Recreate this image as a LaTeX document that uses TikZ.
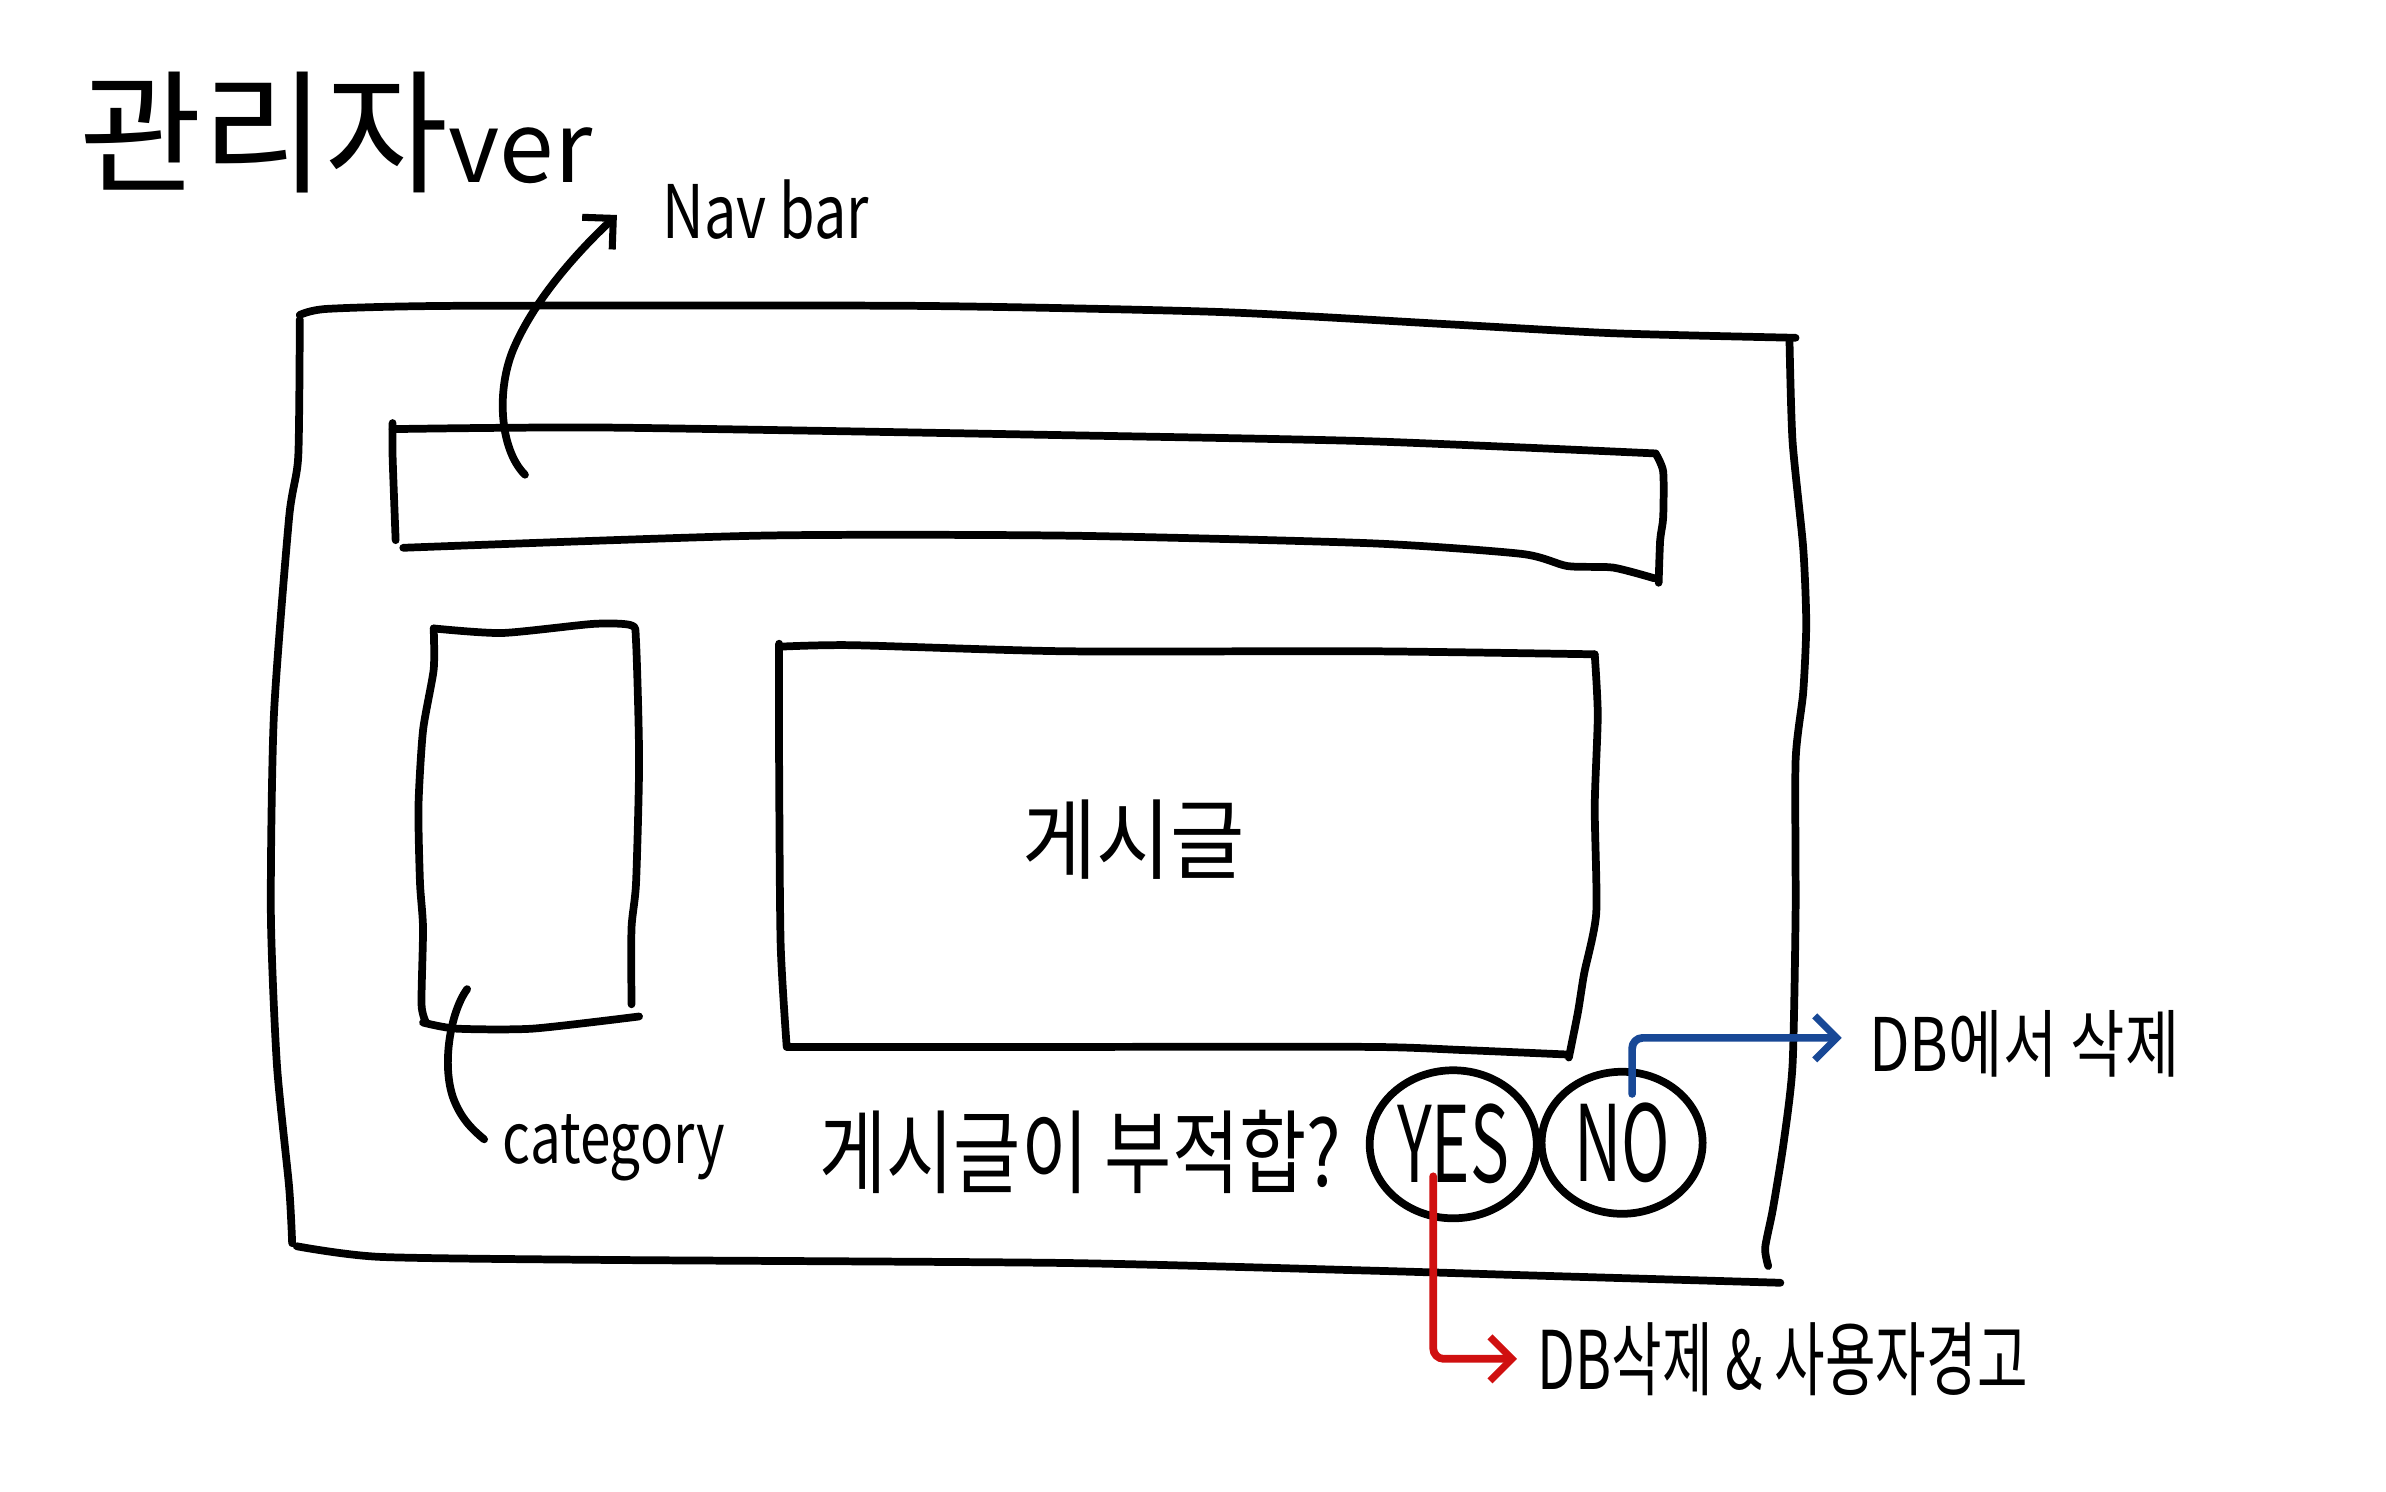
\documentclass[tikz,border=0pt]{standalone}
\usepackage{fontspec}
\newfontfamily\kr{Noto Sans CJK KR}
\usetikzlibrary{arrows.meta,shapes.geometric}
\definecolor{penred}{RGB}{208,16,16}
\definecolor{penblue}{RGB}{24,72,150}
\tikzset{
  pen/.style={line width=2.2pt, line cap=round, line join=round},
  lbl/.style={font=\kr, inner sep=0pt},
  answer/.style={ellipse, draw, line width=2.2pt, inner sep=0pt, font=\kr\fontsize{30}{30}\selectfont},
  barb/.style={-{Straight Barb[length=2.2mm,width=4.4mm,line width=2pt]}},
}
\begin{document}
\begin{tikzpicture}[x=0.015217cm,y=-0.015217cm]
\useasboundingbox (0,0) rectangle (1568,980);
\fill[white] (0,0) rectangle (1568,980);

% title
\node[lbl, anchor=base west] (title) at (52,120)
  {{\fontsize{38}{38}\selectfont 관리자}{\fontsize{28}{28}\selectfont ver}};

% outer frame
\draw[pen] plot[smooth, tension=0.4] coordinates {(197,207) (215,203) (300,201) (600,201) (800,205) (950,213) (1060,219) (1180,222)};
\draw[pen] plot[smooth, tension=0.4] coordinates {(1176,224) (1178,290) (1185,360) (1187,410) (1185,455) (1180,500) (1180,600) (1178,700) (1172,752) (1165,795) (1160,820) (1162,832)};
\draw[pen] plot[smooth, tension=0.4] coordinates {(1170,843) (1000,838) (900,835) (700,830) (400,828) (250,826) (195,819)};
\draw[pen] plot[smooth, tension=0.4] coordinates {(192,817) (190,780) (182,700) (178,600) (180,470) (190,340) (196,300) (197,210)};

% nav bar
\draw[pen] plot[smooth, tension=0.4] coordinates {(258,278) (258,300) (260,355)};
\draw[pen] plot[smooth, tension=0.4] coordinates {(258,282) (400,281) (700,286) (900,290) (1088,298)};
\draw[pen] plot[smooth, tension=0.4] coordinates {(1088,298) (1093,310) (1093,340) (1091,355) (1090,383)};
\draw[pen] plot[smooth, tension=0.4] coordinates {(265,360) (500,352) (700,352) (900,357) (1000,364) (1030,372) (1060,373) (1087,380)};
\coordinate (navpt) at (345,312);

% category box
\draw[pen] plot[smooth, tension=0.4] coordinates {(285,413) (330,416) (390,410) (415,411) (418,422) (420,500) (418,580) (415,610) (415,660)};
\draw[pen] plot[smooth, tension=0.4] coordinates {(285,413) (285,440) (278,480) (275,530) (276,580) (278,610) (277,660) (280,672)};
\draw[pen] plot[smooth, tension=0.4] coordinates {(278,672) (300,676) (350,676) (420,668)};
\coordinate (catpt) at (307,650);

% post box
\draw[pen] plot[smooth, tension=0.4] coordinates {(512,423) (512,500) (513,620) (517,688)};
\draw[pen] plot[smooth, tension=0.4] coordinates {(512,425) (560,424) (700,428) (900,428) (1048,430)};
\draw[pen] plot[smooth, tension=0.4] coordinates {(1048,430) (1050,470) (1048,530) (1049,600) (1041,640) (1037,665) (1031,695)};
\draw[pen] plot[smooth, tension=0.4] coordinates {(517,688) (700,688) (900,688) (960,690) (1030,693)};
\node[lbl, font=\kr\fontsize{25}{25}\selectfont] (post) at (745,552) {\scalebox{0.92}[1]{게시글}};

% labels
\node[lbl, anchor=west, font=\kr\fontsize{21}{21}\selectfont] (navlbl) at (435,138) {\scalebox{0.78}[1]{Nav bar}};
\node[lbl, anchor=west, font=\kr\fontsize{20}{20}\selectfont] (catlbl) at (330,754) {\scalebox{0.78}[1]{category}};
\node[lbl, font=\kr\fontsize{26}{26}\selectfont] (question) at (710,757) {\scalebox{0.8}[1]{게시글이 부적합?}};

% answers
\node[answer, minimum width=1.67cm, minimum height=1.48cm] (yes) at (955,752) {\scalebox{0.62}[1]{YES}};
\node[answer, minimum width=1.61cm, minimum height=1.42cm] (no) at (1066,751) {\scalebox{0.62}[1]{NO}};

\node[lbl, anchor=west, font=\kr\fontsize{21}{21}\selectfont] (dbdel) at (1228,686) {\scalebox{0.8}[1]{DB에서 삭제}};
\node[lbl, anchor=west, font=\kr\fontsize{23}{23}\selectfont] (dbwarn) at (1010,893) {\scalebox{0.68}[1]{DB삭제 \& 사용자경고}};

% connectors
\draw[pen, barb] (navpt) .. controls (328,295) and (326,255) .. (338,228)
  .. controls (352,196) and (380,165) .. ([xshift=-0.45cm,yshift=-0.05cm]navlbl.west);
\draw[pen] (catpt) .. controls (296,665) and (290,700) .. (298,722)
  .. controls (303,735) and (310,742) .. ([xshift=-0.18cm,yshift=0.08cm]catlbl.west);
\draw[pen, penblue, barb, rounded corners=3pt] ([xshift=0.1cm,yshift=-0.26cm]no.north) |- ([xshift=-0.27cm,yshift=0.06cm]dbdel.west);
\draw[pen, penred, barb, rounded corners=3pt] ([xshift=-0.2cm,yshift=-0.32cm]yes.center) |- ([xshift=-0.2cm]dbwarn.west);
\end{tikzpicture}
\end{document}
